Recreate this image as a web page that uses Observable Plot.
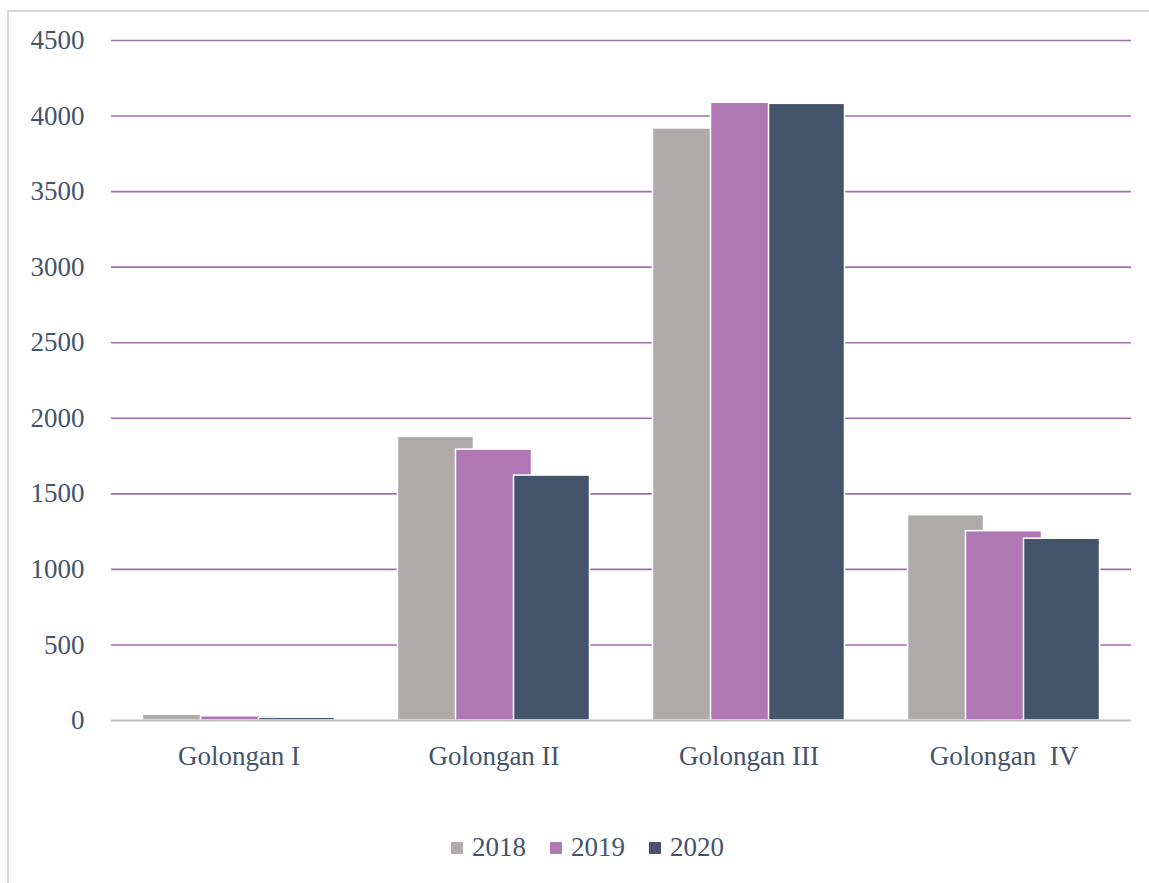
<!DOCTYPE html>
<html>
<head>
<meta charset="utf-8">
<script src="https://cdn.jsdelivr.net/npm/d3@7"></script>
<script src="https://cdn.jsdelivr.net/npm/@observablehq/plot@0.6"></script>
<style>
  html, body { margin: 0; padding: 0; background: #ffffff; overflow: hidden; }
  #wrap { position: relative; width: 1149px; height: 883px; overflow: hidden; }
  #frame { position: absolute; left: 7px; top: 10px; width: 1300px; height: 1000px;
           border: 2px solid #d9d9d9; box-sizing: border-box; }
  #chart { position: absolute; left: 0; top: 0; }
  #chart svg text { white-space: pre; }
  #legend { position: absolute; left: 451px; top: 832px; display: flex; align-items: center;
            font-family: 'Liberation Serif', serif; font-size: 27px; color: #44546a; }
  #legend span { font-family: 'Liberation Serif', serif; }
  .item { display: flex; align-items: center; margin-right: 24px; }
  .sw { width: 12px; height: 12px; margin-right: 9px; }
</style>
</head>
<body>
<div id="wrap">
  <div id="frame"></div>
  <div id="chart"></div>
  <div id="legend"></div>
</div>
<script>
const categories = ["Golongan I", "Golongan II", "Golongan III", "Golongan  IV"];
const years = ["2018", "2019", "2020"];
const values2018 = [38, 1877, 3918, 1359];
const values2019 = [28, 1793, 4088, 1253];
const values2020 = [18, 1621, 4081, 1203];
const colors = ["#adaaa9", "#af77b4", "#44546a"];
const yTicks = [0, 500, 1000, 1500, 2000, 2500, 3000, 3500, 4000, 4500];

const series = [values2018, values2019, values2020];
const step = 0.2275, half = 0.149;
const rows = [];
years.forEach((yr, j) => {
  categories.forEach((c, i) => {
    const center = i + 0.5 + (j - 1) * step;
    rows.push({category: c, year: yr, value: series[j][i], x1: center - half, x2: center + half});
  });
});

const chart = Plot.plot({
  width: 1149,
  height: 800,
  marginLeft: 111,
  marginRight: 18,
  marginTop: 40,
  marginBottom: 80,
  style: {fontFamily: "'Liberation Serif', serif", fontSize: "27px", color: "#44546a", background: "transparent"},
  x: {type: "linear", domain: [0, categories.length], axis: null},
  y: {domain: [0, 4500], axis: null},
  color: {domain: years, range: colors},
  marks: [
    Plot.ruleY(yTicks.filter(t => t > 0), {stroke: "#a070a8", strokeWidth: 1.6}),
    Plot.rect(rows, {x1: "x1", x2: "x2", y1: 0, y2: "value", fill: "year", stroke: "#ffffff", strokeWidth: 1.5}),
    Plot.ruleY([0], {stroke: "#bfbfbf", strokeWidth: 2}),
    Plot.axisY({ticks: yTicks, tickSize: 0, tickPadding: 27, label: null, tickFormat: d => String(d)}),
    Plot.axisX({ticks: categories.map((c, i) => i + 0.5), tickSize: 0, tickPadding: 25, label: null,
                tickFormat: t => categories[Math.floor(t)]})
  ]
});
document.getElementById("chart").appendChild(chart);

const legend = document.getElementById("legend");
years.forEach((yr, j) => {
  const it = document.createElement("div");
  it.className = "item";
  const sw = document.createElement("div");
  sw.className = "sw";
  sw.style.background = colors[j];
  const tx = document.createElement("span");
  tx.textContent = yr;
  it.appendChild(sw);
  it.appendChild(tx);
  legend.appendChild(it);
});
</script>
</body>
</html>
